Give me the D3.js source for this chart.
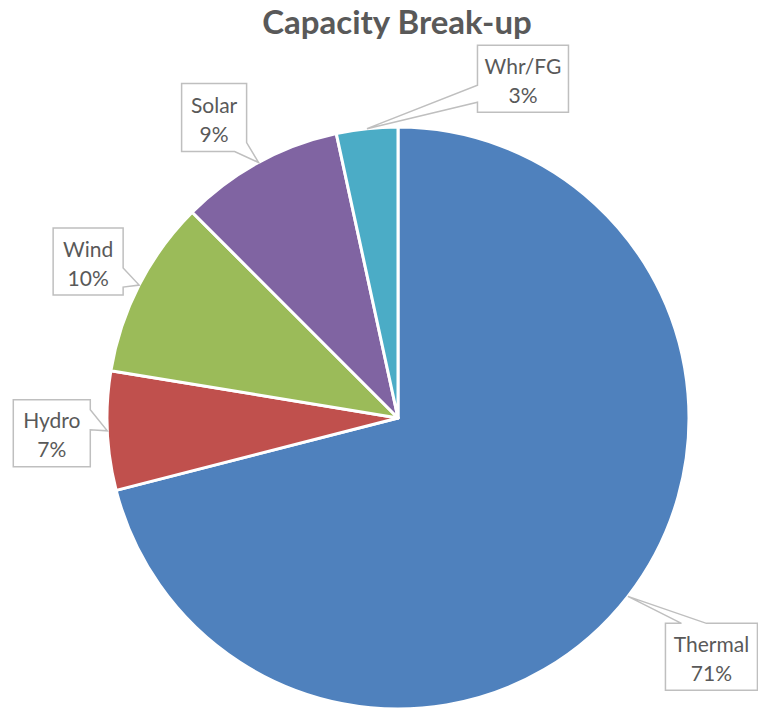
<!DOCTYPE html>
<html>
<head>
<meta charset="utf-8">
<script src="https://cdn.jsdelivr.net/npm/d3@7"></script>
<style>
  html, body { margin: 0; padding: 0; background: #fff; }
  svg { display: block; }
</style>
</head>
<body>
<svg id="chart" width="758" height="710"></svg>
<script>
// ---- data ----
const categories = ["Thermal", "Hydro", "Wind", "Solar", "Whr/FG"];
const shares = [71.0, 6.6, 9.9, 9.1, 3.4];
const percentLabels = ["71%", "7%", "10%", "9%", "3%"];
const colors = ["#4F81BD", "#C0504D", "#9BBB59", "#8064A2", "#4BACC6"];
const title = "Capacity Break-up";

// ---- layout (annotation placement, not data) ----
const W = 758, H = 710;
const cx = 398, cy = 418, R = 291;
// box center offset from callout tip, box size, wedge base on perimeter (clockwise from top-left)
const calloutLayout = [
  { dx: 83.5, dy: 60.5, w: 92, h: 67, edge: "top", a: 16, b: 41 },       // Thermal
  { dx: -55.5, dy: 2.5, w: 77, h: 67, edge: "right", a: 10, b: 30 },     // Hydro
  { dx: -51, dy: -23.5, w: 70, h: 67, edge: "right", a: 40, b: 59 },     // Wind
  { dx: -44.5, dy: -45, w: 65, h: 68, edge: "corner", a: 59, b: 12 },    // Solar
  { dx: 156, dy: -50, w: 91, h: 67, edge: "left", a: 10, b: 27 }          // Whr/FG
];

const svg = d3.select("#chart");

svg.append("text")
  .attr("x", 397).attr("y", 34)
  .attr("text-anchor", "middle")
  .attr("font-family", "Lato, 'Open Sans', sans-serif")
  .attr("font-weight", "bold")
  .attr("font-size", 33)
  .attr("fill", "#595959")
  .text(title);

const data = categories.map((c, i) => ({ name: c, value: shares[i], pct: percentLabels[i], color: colors[i], layout: calloutLayout[i] }));

const pie = d3.pie().value(d => d.value).sort(null);
const arcs = pie(data);
const arc = d3.arc().innerRadius(0).outerRadius(R);

const g = svg.append("g").attr("transform", `translate(${cx},${cy})`);
g.selectAll("path.slice")
  .data(arcs)
  .enter().append("path")
  .attr("class", "slice")
  .attr("d", arc)
  .attr("fill", d => d.data.color)
  .attr("stroke", "#fff")
  .attr("stroke-width", 3)
  .attr("stroke-linejoin", "round");

// perimeter point at distance t clockwise from top-left
function perim(x0, y0, w, h, t) {
  const P = 2 * w + 2 * h;
  t = ((t % P) + P) % P;
  if (t <= w) return [x0 + t, y0];
  if (t <= w + h) return [x0 + w, y0 + (t - w)];
  if (t <= 2 * w + h) return [x0 + w - (t - w - h), y0 + h];
  return [x0, y0 + h - (t - 2 * w - h)];
}

function calloutPath(x0, y0, w, h, t1, t2, tip) {
  const P = 2 * w + 2 * h;
  let end = t1;
  while (end <= t2) end += P;
  const corners = [w, w + h, 2 * w + h, P, P + w, P + w + h, P + 2 * w + h, 2 * P];
  const pts = [perim(x0, y0, w, h, t2)];
  corners.forEach(c => { if (c > t2 && c < end) pts.push(perim(x0, y0, w, h, c)); });
  pts.push(perim(x0, y0, w, h, end));
  pts.push(tip);
  return "M" + pts.map(p => p[0] + "," + p[1]).join("L") + "Z";
}

const labels = svg.append("g");
arcs.forEach(d => {
  const mid = (d.startAngle + d.endAngle) / 2;
  const tip = [cx + R * Math.sin(mid), cy - R * Math.cos(mid)];
  const L = d.data.layout;
  const bx = tip[0] + L.dx, by = tip[1] + L.dy;
  const x0 = bx - L.w / 2, y0 = by - L.h / 2;
  let t1, t2;
  if (L.edge === "top") { t1 = L.a; t2 = L.b; }
  else if (L.edge === "right") { t1 = L.w + L.a; t2 = L.w + L.b; }
  else if (L.edge === "left") { t1 = 2 * L.w + L.h + L.a; t2 = 2 * L.w + L.h + L.b; }
  else { t1 = L.w + L.a; t2 = L.w + L.h + L.b; }
  labels.append("path")
    .attr("d", calloutPath(x0, y0, L.w, L.h, t1, t2, tip))
    .attr("fill", "#fff")
    .attr("stroke", "#BFBFBF")
    .attr("stroke-width", 1.5)
    .attr("stroke-linejoin", "miter");
  const t = labels.append("text")
    .attr("text-anchor", "middle")
    .attr("font-family", "Lato, 'Open Sans', sans-serif")
    .attr("font-size", 21)
    .attr("fill", "#595959");
  t.append("tspan").attr("x", bx).attr("y", by - 5).text(d.data.name);
  t.append("tspan").attr("x", bx).attr("y", by + 24).text(d.data.pct);
});
</script>
</body>
</html>
